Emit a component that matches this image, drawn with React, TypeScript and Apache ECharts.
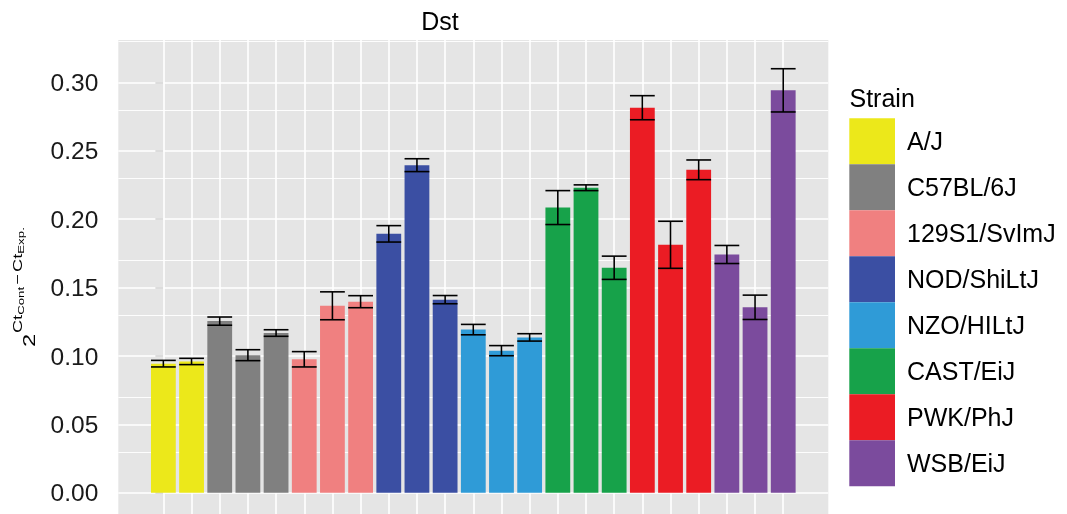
import React, { useEffect, useRef } from "react";
import * as echarts from "echarts";

const strains = ["A/J", "C57BL/6J", "129S1/SvImJ", "NOD/ShiLtJ", "NZO/HILtJ", "CAST/EiJ", "PWK/PhJ", "WSB/EiJ"];
const strainColors = ["#ECE81A", "#808080", "#F08080", "#3B4FA3", "#2F9BD7", "#17A24A", "#EB1C24", "#7B4B9D"];
const barStrain = [0, 0, 1, 1, 1, 2, 2, 2, 3, 3, 3, 4, 4, 4, 5, 5, 5, 6, 6, 6, 7, 7, 7];
const means = [0.0944, 0.096, 0.1255, 0.1006, 0.1168, 0.0976, 0.1367, 0.1397, 0.1893, 0.2395, 0.1412, 0.1193, 0.1039, 0.1136, 0.2085, 0.223, 0.1645, 0.2815, 0.1813, 0.2361, 0.1742, 0.1356, 0.2942];
const ses = [0.0024, 0.0023, 0.003, 0.004, 0.0024, 0.0056, 0.0102, 0.0044, 0.006, 0.0047, 0.003, 0.0038, 0.0037, 0.0027, 0.0124, 0.0021, 0.0085, 0.0088, 0.0172, 0.0072, 0.0066, 0.0089, 0.0158];
const yTicks = [0, 0.05, 0.1, 0.15, 0.2, 0.25, 0.3];
const yMinor = [0.025, 0.075, 0.125, 0.175, 0.225, 0.275, 0.325];
const title = "Dst";
const legendTitle = "Strain";

const FONT = '"Liberation Sans", Arial, Helvetica, sans-serif';

export default function App() {
  const ref = useRef<HTMLDivElement>(null);
  useEffect(() => {
    if (!ref.current) return;
    const chart = echarts.init(ref.current, undefined, { renderer: "svg" });

    const gridLeft = 118.3;
    const gridRight = 238.7;
    const plotW = 1067 - gridLeft - gridRight;
    const xMin = -1.6;
    const xMax = barStrain.length - 1 + 1.6;
    const unit = plotW / (xMax - xMin);
    const barFrac = 0.88;
    const barW = unit * barFrac;

    // measure text widths for the axis title
    const canvas = document.createElement("canvas");
    const ctx = canvas.getContext("2d")!;
    const measure = (t: string, fs: number) => {
      ctx.font = `${fs}px ${FONT}`;
      return ctx.measureText(t).width;
    };
    const S = 1.4;
    const frags = [
      { t: "2", fs: 17, b: 0, gap: 0 },
      { t: "Ct", fs: 13, b: -13, gap: 0.5 },
      { t: "Cont", fs: 9.5, b: -10.5, gap: 0 },
      { t: "\u2212", fs: 13, b: -13, gap: 1.5 },
      { t: "Ct", fs: 13, b: -13, gap: 1.5 },
      { t: "Exp.", fs: 9.5, b: -10.5, gap: 0 },
    ];
    let cx = 0;
    const titleChildren: any[] = [];
    frags.forEach((f) => {
      cx += f.gap;
      titleChildren.push({
        type: "text",
        x: cx * S,
        y: f.b - 0.3465 * f.fs,
        scaleX: S,
        scaleY: 1,
        style: { text: f.t, fontSize: f.fs, fontFamily: FONT, fill: "#000", align: "left", verticalAlign: "middle" },
      });
      cx += measure(f.t, f.fs);
    });

    const vLines = barStrain.map((_, i) => ({ xAxis: i, lineStyle: { width: 1.6 } }));
    const hMajor = yTicks.map((v) => ({ yAxis: v, lineStyle: { width: 1.7 } }));
    const hMinor = yMinor.map((v) => ({ yAxis: v, lineStyle: { width: 0.9 } }));

    const barSeries = strains.map((s, si) => ({
      type: "bar",
      name: s,
      data: barStrain.map((k, i) => (k === si ? [i, means[i]] : null)).filter((d) => d !== null),
      barWidth: barW,
      barGap: "-100%",
      itemStyle: { color: strainColors[si] },
      z: 3,
      silent: true,
    }));

    const errData = means.map((m, i) => [i, m, ses[i]]);

    const option: any = {
      animation: false,
      textStyle: { fontFamily: FONT },
      grid: {
        left: gridLeft,
        right: gridRight,
        top: 40,
        bottom: 0,
        show: true,
        backgroundColor: "#E5E5E5",
        borderWidth: 0,
        containLabel: false,
      },
      xAxis: {
        type: "value",
        min: xMin,
        max: xMax,
        axisLine: { show: false },
        axisTick: { show: false },
        axisLabel: { show: false },
        splitLine: { show: false },
      },
      yAxis: {
        type: "value",
        min: -0.0155,
        max: 0.331,
        axisLine: { show: false },
        axisTick: { show: true, customValues: yTicks, length: 8, lineStyle: { color: "#4D4D4D", width: 1.5 } },
        axisLabel: {
          show: true,
          customValues: yTicks,
          formatter: (v: number) => (yTicks.some((t) => Math.abs(t - v) < 1e-9) ? v.toFixed(2) : ""),
          fontSize: 24.5,
          color: "#1A1A1A",
          fontFamily: FONT,
          margin: 20,
        },
        splitLine: { show: false },
      },
      legend: {
        data: strains,
        orient: "vertical",
        left: 849.3,
        top: 118.3,
        itemWidth: 45.7,
        itemHeight: 46,
        itemGap: 0,
        icon: "rect",
        selectedMode: false,
        padding: 0,
        textStyle: { fontSize: 25, color: "#000", fontFamily: FONT, padding: [0, 0, 0, 7] },
      },
      graphic: [
        {
          type: "text",
          x: 440,
          y: 30 - 0.3465 * 25,
          style: { text: title, fontSize: 25, fontFamily: FONT, fill: "#000", align: "center", verticalAlign: "middle" },
        },
        {
          type: "text",
          x: 849.5,
          y: 106.7 - 0.3465 * 25,
          style: { text: legendTitle, fontSize: 25, fontFamily: FONT, fill: "#000", align: "left", verticalAlign: "middle" },
        },
        {
          type: "group",
          x: 35,
          y: 347,
          rotation: Math.PI / 2,
          children: titleChildren,
        },
      ],
      series: [
        {
          type: "line",
          name: "_grid",
          data: [],
          z: 1,
          silent: true,
          markLine: {
            silent: true,
            z: 1,
            zlevel: 0,
            symbol: ["none", "none"],
            label: { show: false },
            lineStyle: { color: "#FFFFFF", type: "solid" },
            emphasis: { disabled: true },
            data: [...hMinor, ...hMajor, ...vLines],
          },
        },
        ...barSeries,
        {
          type: "custom",
          name: "_err",
          data: errData,
          z: 5,
          silent: true,
          renderItem: (params: any, api: any) => {
            const x = api.value(0);
            const m = api.value(1);
            const s = api.value(2);
            const top = api.coord([x, m + s]);
            const bot = api.coord([x, m - s]);
            const half = api.size([barFrac, 0])[0] / 2;
            const st = { stroke: "#000", lineWidth: 1.6 };
            return {
              type: "group",
              children: [
                { type: "line", shape: { x1: top[0], y1: top[1], x2: bot[0], y2: bot[1] }, style: st },
                { type: "line", shape: { x1: top[0] - half, y1: top[1], x2: top[0] + half, y2: top[1] }, style: st },
                { type: "line", shape: { x1: bot[0] - half, y1: bot[1], x2: bot[0] + half, y2: bot[1] }, style: st },
              ],
            };
          },
        },
      ],
    };
    chart.setOption(option);
    return () => chart.dispose();
  }, []);
  return <div ref={ref} style={{ position: "fixed", left: 0, top: 0, width: 1067, height: 514 }} />;
}
